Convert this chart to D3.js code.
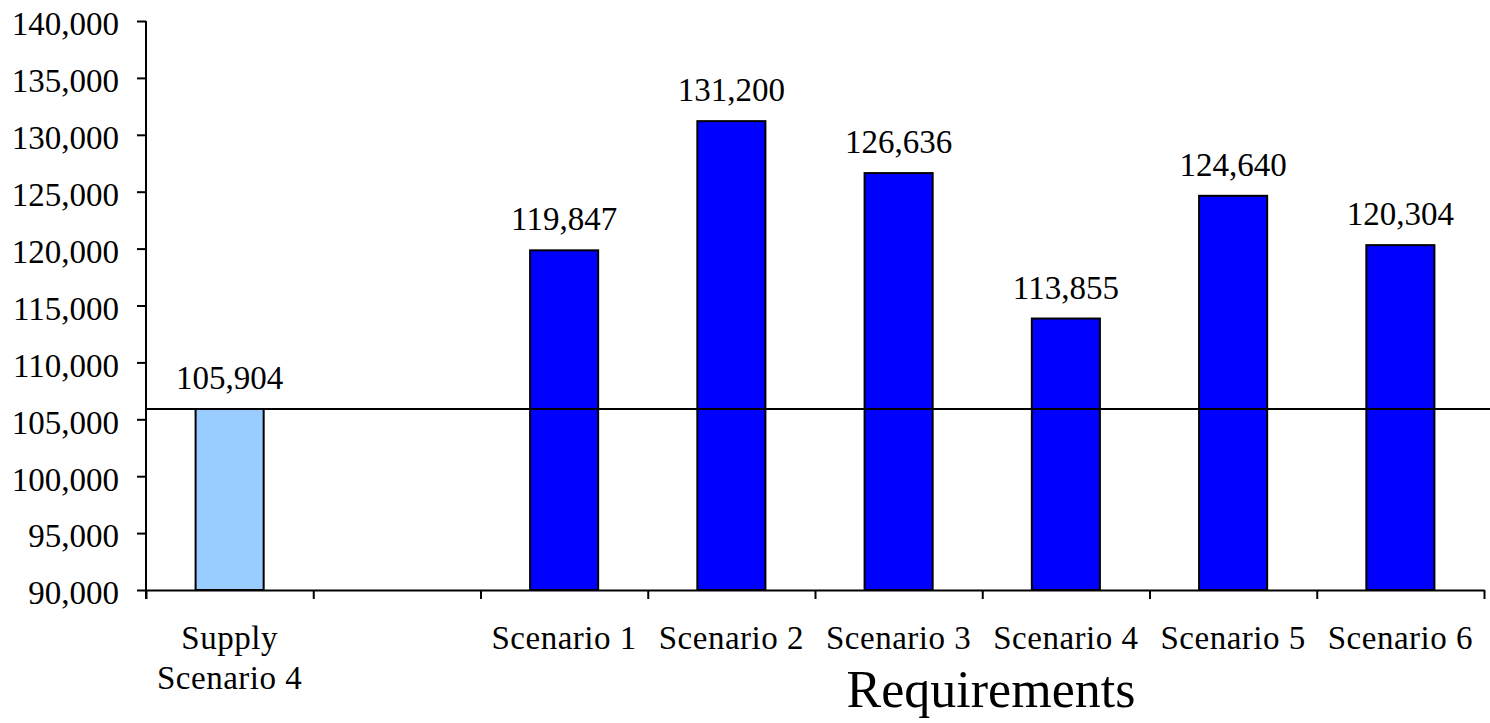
<!DOCTYPE html>
<html>
<head>
<meta charset="utf-8">
<script src="https://cdn.jsdelivr.net/npm/d3@7"></script>
<style>
  html, body { margin: 0; padding: 0; background: #fff; }
  svg { display: block; }
  text { font-family: "Liberation Serif", "Times New Roman", serif; fill: #000; }
</style>
</head>
<body>
<svg id="chart" width="1490" height="723"></svg>
<script>
// Category slots along the x axis (the second slot is an empty gap)
const categories = ["Supply\nScenario 4", "", "Scenario 1", "Scenario 2", "Scenario 3", "Scenario 4", "Scenario 5", "Scenario 6"];
// Values per slot (null = no bar)
const values = [105904, null, 119847, 131200, 126636, 113855, 124640, 120304];
// Slot kind: supply bar vs requirement bars
const kinds = ["supply", "none", "req", "req", "req", "req", "req", "req"];
// Reference level drawn across the plot (the supply value)
const referenceValue = 105904;
// Y axis tick values
const yTicks = [90000, 95000, 100000, 105000, 110000, 115000, 120000, 125000, 130000, 135000, 140000];
const xTitle = "Requirements";

const colors = { supply: "#99CCFF", req: "#0000FF" };

const svg = d3.select("#chart");
const plot = { left: 146, right: 1484, top: 21, bottom: 590 };

const x = d3.scaleBand()
  .domain(d3.range(categories.length))
  .range([plot.left, plot.right])
  .paddingInner(0.593)
  .paddingOuter(0.593 / 2);

const xEdges = d3.scaleLinear().domain([0, categories.length]).range([plot.left, plot.right]);

const y = d3.scaleLinear().domain([90000, 140000]).range([plot.bottom, plot.top]);

// Bars
const data = values.map((v, i) => ({ i, v, kind: kinds[i] })).filter(d => d.v != null);

svg.append("g").selectAll("rect")
  .data(data)
  .join("rect")
  .attr("x", d => x(d.i))
  .attr("y", d => y(d.v))
  .attr("width", x.bandwidth())
  .attr("height", d => y(90000) - y(d.v))
  .attr("fill", d => colors[d.kind])
  .attr("stroke", "#000")
  .attr("stroke-width", 2);

// Reference line at the supply level
svg.append("line")
  .attr("x1", plot.left).attr("x2", 1490)
  .attr("y1", y(referenceValue)).attr("y2", y(referenceValue))
  .attr("stroke", "#000").attr("stroke-width", 2);

// Value labels above bars
svg.append("g").selectAll("text")
  .data(data)
  .join("text")
  .attr("x", d => x(d.i) + x.bandwidth() / 2)
  .attr("y", d => y(d.v) - 20)
  .attr("text-anchor", "middle")
  .style("font-size", "33px")
  .text(d => d3.format(",")(d.v));

// Y axis
const yAxis = svg.append("g")
  .attr("transform", `translate(${plot.left},0)`)
  .call(d3.axisLeft(y).tickValues(yTicks).tickFormat(d3.format(",")).tickSize(9).tickSizeOuter(0).tickPadding(18));
yAxis.selectAll("text").style("font-size", "33px").attr("dy", "0.42em")
  .style("font-family", "'Liberation Serif', 'Times New Roman', serif");
yAxis.select(".domain").attr("stroke-width", 2).attr("d", `M0,${plot.top}V${plot.bottom + 9}`);
yAxis.selectAll(".tick line").attr("stroke-width", 2);

// X axis with ticks at slot boundaries
const xAxis = svg.append("g")
  .attr("transform", `translate(0,${plot.bottom})`)
  .call(d3.axisBottom(xEdges).tickValues(d3.range(categories.length + 1)).tickFormat("").tickSize(9).tickSizeOuter(0));
xAxis.select(".domain").attr("stroke-width", 2);
xAxis.selectAll(".tick line").attr("stroke-width", 2);

// Category labels (multi-line where needed)
const catG = svg.append("g");
categories.forEach((c, i) => {
  if (!c) return;
  const lines = c.split("\n");
  const cx = x(i) + x.bandwidth() / 2;
  const t = catG.append("text")
    .attr("x", cx)
    .attr("y", 649)
    .attr("text-anchor", "middle")
    .style("font-size", "33px")
    .style("letter-spacing", "0.5px");
  lines.forEach((ln, k) => {
    t.append("tspan")
      .attr("x", cx)
      .attr("dy", k === 0 ? 0 : 40)
      .text(ln);
  });
});

// Axis title under the requirement scenarios
svg.append("text")
  .attr("x", 991)
  .attr("y", 707)
  .attr("text-anchor", "middle")
  .style("font-size", "52px")
  .text(xTitle);
</script>
</body>
</html>
